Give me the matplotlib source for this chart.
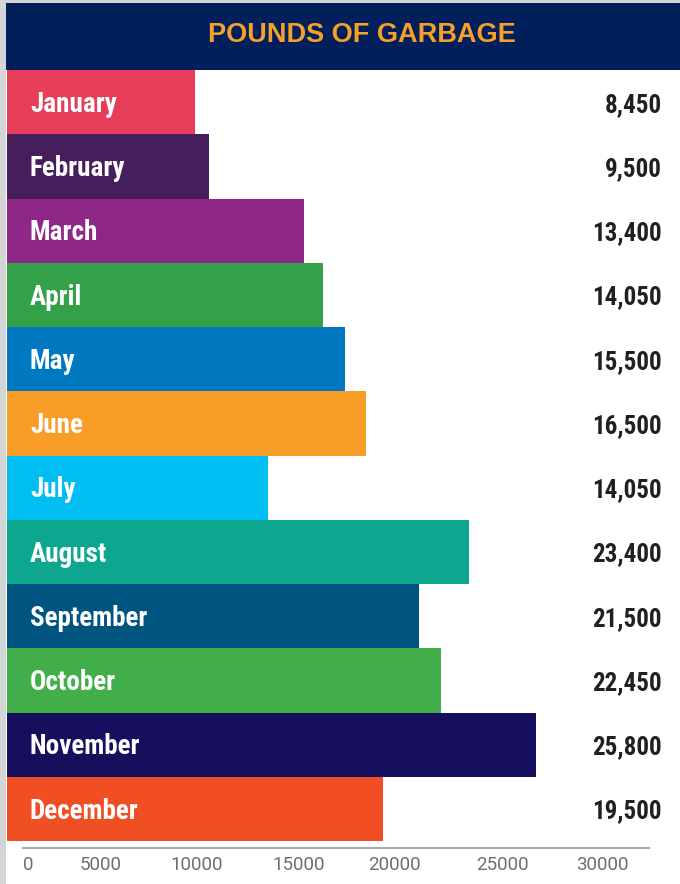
#!/usr/bin/env python3
"""Pounds of garbage per month - horizontal bar infographic."""

import matplotlib
matplotlib.use("Agg")
import matplotlib.pyplot as plt
from matplotlib.patches import Rectangle
from matplotlib import font_manager

# ── Data ──
months = ["January", "February", "March", "April", "May", "June",
          "July", "August", "September", "October", "November", "December"]
value_labels = ["8,450", "9,500", "13,400", "14,050", "15,500", "16,500",
                "14,050", "23,400", "21,500", "22,450", "25,800", "19,500"]
# bar ends as drawn, read against the bottom scale
bar_ends = [8730, 9460, 14425, 15420, 16570, 17670,
            12545, 23050, 20435, 21585, 26550, 18555]
bar_base = -1100
tick_labels = ["0", "5000", "10000", "15000", "20000", "25000", "30000"]
tick_at = [0, 3815, 8835, 14165, 19130, 24775, 30000]

# ── Colours ──
BAR_COLORS = ["#E63D58", "#461E5C", "#8E2787", "#34A048", "#0079C1", "#F99D29",
              "#00BDF2", "#0DA68E", "#005580", "#41AE4A", "#160F5E", "#F04E23"]
NAVY = "#001F5B"
ORANGE = "#F6A02A"
INK = "#231F20"
AXIS_GREY = "#A7A9AC"
TICK_GREY = "#6D6E70"
BORDER = "#D4D5D7"

W, H = 680, 884

# pick a narrow bold face that is installed
names = {f.name for f in font_manager.fontManager.ttflist}
COND = [n for n in ("Roboto Condensed", "Liberation Sans Narrow", "Open Sans Condensed",
                    "Noto Sans Condensed", "DejaVu Sans Condensed") if n in names]
COND += ["Noto Sans", "DejaVu Sans"]

fig = plt.figure(figsize=(W / 100, H / 100), dpi=100, facecolor="white")

# frame: grey strip on the left and top, navy title band
fig.patches.append(Rectangle((0, 0), 6 / W, 1, transform=fig.transFigure,
                             facecolor=BORDER, edgecolor="none", zorder=0))
fig.patches.append(Rectangle((0, 1 - 3 / H), 1, 3 / H, transform=fig.transFigure,
                             facecolor=BORDER, edgecolor="none", zorder=0))
fig.patches.append(Rectangle((6 / W, 1 - 70 / H), 1 - 6 / W, 67 / H,
                             transform=fig.transFigure, facecolor=NAVY,
                             edgecolor="none", zorder=0))
fig.text(362 / W, 1 - 35 / H, "POUNDS OF GARBAGE", ha="center", va="center",
         fontsize=19.5, fontweight="bold", color=ORANGE,
         family=["Liberation Sans", "DejaVu Sans"])

# ── Bars ──
ax = fig.add_axes([7 / W, 1 - 841 / H, 1 - 7 / W, 771 / H])
ax.set_facecolor("none")
px_per_unit = (602 - 28) / 30000
ax.set_xlim(-21 / px_per_unit, (W - 28) / px_per_unit)
ax.set_ylim(len(months) - 0.5, -0.5)

for i, (m, end, col, lbl) in enumerate(zip(months, bar_ends, BAR_COLORS, value_labels)):
    ax.barh(i, end - bar_base, left=bar_base, height=1.0, color=col,
            edgecolor="none", zorder=2)
    ax.text(23 / (W - 7), i + 0.15, m, transform=ax.get_yaxis_transform(),
            ha="left", va="baseline", fontsize=19.5, fontweight="bold",
            stretch="condensed", color="white", family=COND, zorder=3)
    ax.text(655 / (W - 7), i + 0.15, lbl, transform=ax.get_yaxis_transform(),
            ha="right", va="baseline", fontsize=18, fontweight="bold",
            stretch="condensed", color=INK, family=COND, zorder=3)

for side in ("top", "right", "left"):
    ax.spines[side].set_visible(False)
ax.spines["bottom"].set_position(("outward", 5))
ax.spines["bottom"].set_color(AXIS_GREY)
ax.spines["bottom"].set_linewidth(1.5)
ax.spines["bottom"].set_bounds(-5 / px_per_unit, (649 - 28) / px_per_unit)
ax.set_yticks([])
ax.set_xticks(tick_at)
ax.set_xticklabels(tick_labels, fontsize=13.5, color=TICK_GREY, family="Roboto")
ax.tick_params(axis="x", length=0, pad=6)

fig.savefig("out.png", dpi=100, facecolor="white")
plt.close(fig)
